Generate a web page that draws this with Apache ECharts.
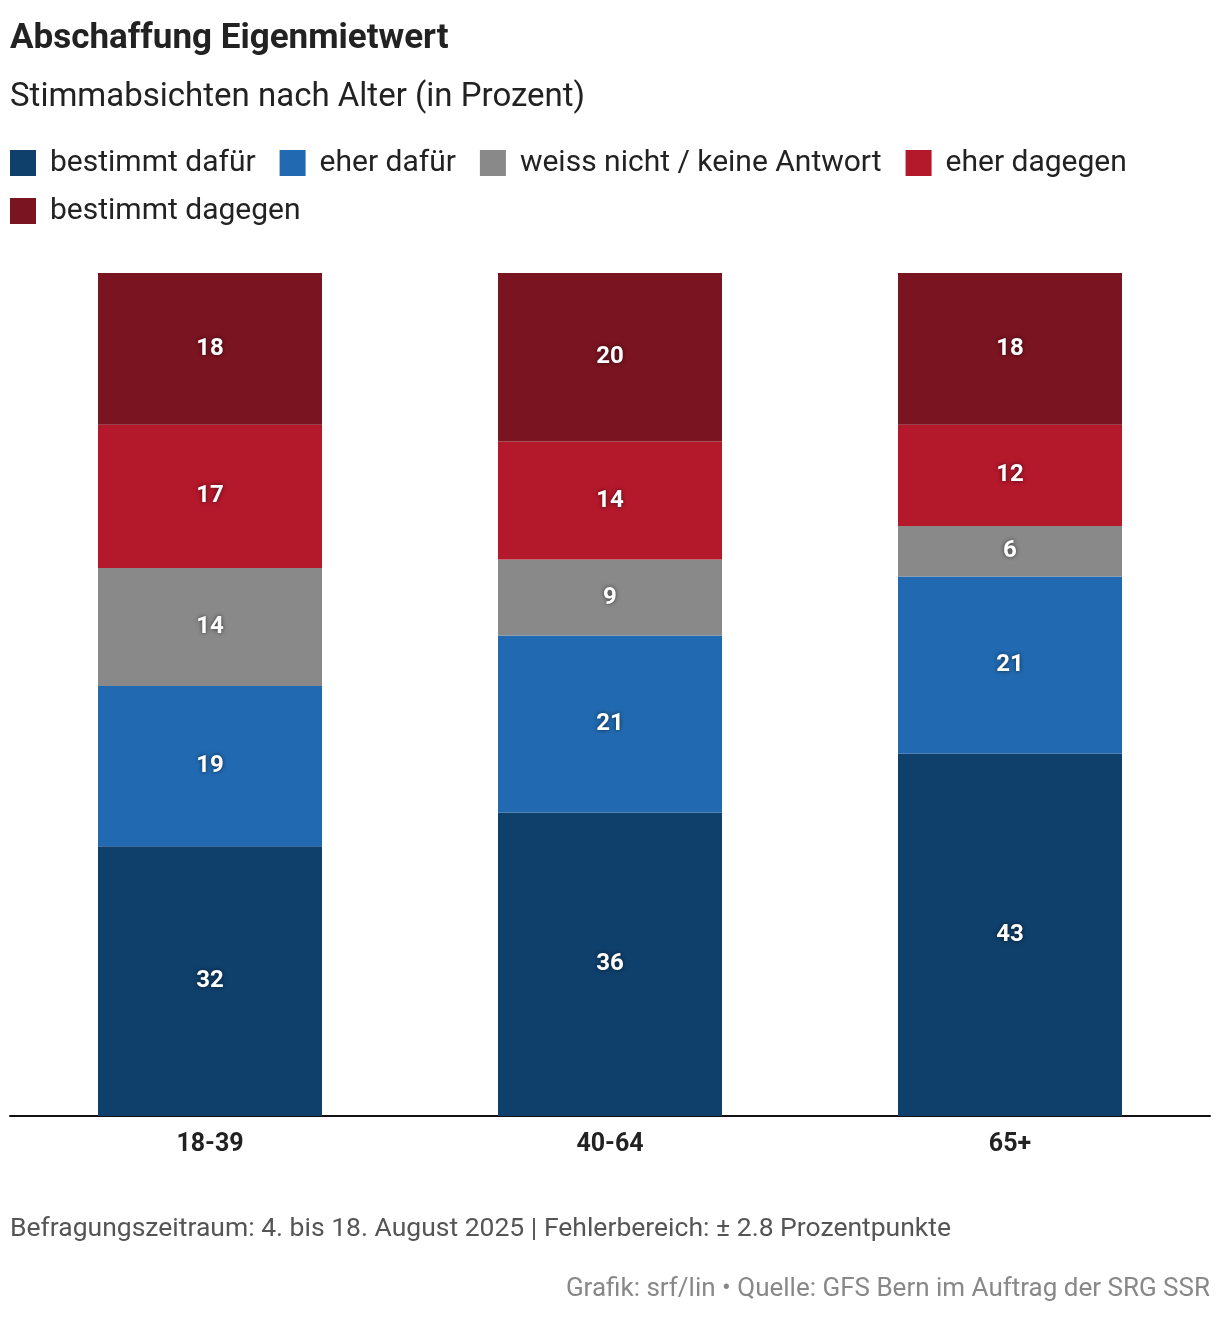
<!DOCTYPE html>
<html><head><meta charset="utf-8">
<script src="https://cdn.jsdelivr.net/npm/echarts@6/dist/echarts.min.js"></script>
<style>html,body{margin:0;padding:0;background:#fff}#c{width:1220px;height:1318px}</style>
</head><body><div id="c"></div>
<script>
const categories = ['18-39', '40-64', '65+'];
const seriesNames = ['bestimmt dafür', 'eher dafür', 'weiss nicht / keine Antwort', 'eher dagegen', 'bestimmt dagegen'];
const bestimmtDafuer = [32, 36, 43];
const eherDafuer = [19, 21, 21];
const weissNicht = [14, 9, 6];
const eherDagegen = [17, 14, 12];
const bestimmtDagegen = [18, 20, 18];
const colors = ['#0f3f6b', '#2169b0', '#898989', '#b3182b', '#7a1420'];
const values = [bestimmtDafuer, eherDafuer, weissNicht, eherDagegen, bestimmtDagegen];

const FONT = 'Roboto, "Noto Sans", sans-serif';
const legendBase = {
  left: 10, padding: 0, orient: 'horizontal',
  itemWidth: 26, itemHeight: 26, itemGap: 24,
  icon: 'rect', selectedMode: false,
  textStyle: {fontFamily: FONT, fontSize: 30, color: '#222', padding: [0, 0, 0, 9]}
};
const chart = echarts.init(document.getElementById('c'), null, {renderer: 'canvas'});
chart.setOption({
  backgroundColor: '#fff',
  animation: false,
  textStyle: {fontFamily: FONT},
  title: [
    {text: 'Abschaffung Eigenmietwert', left: 10, top: 22, padding: 0, textStyle: {fontFamily: FONT, fontSize: 35, fontWeight: 'bold', color: '#222'}},
    {text: 'Stimmabsichten nach Alter (in Prozent)', left: 10, top: 81, padding: 0, textStyle: {fontFamily: FONT, fontSize: 33, fontWeight: 'normal', color: '#222'}},
    {text: 'Befragungszeitraum: 4. bis 18. August 2025 | Fehlerbereich: ± 2.8 Prozentpunkte', left: 10, top: 1216, padding: 0, textStyle: {fontFamily: FONT, fontSize: 26.5, fontWeight: 'normal', color: '#555'}},
    {text: 'Grafik: srf/lin • Quelle: GFS Bern im Auftrag der SRG SSR', right: 10, top: 1276, padding: 0, textStyle: {fontFamily: FONT, fontSize: 26, fontWeight: 'normal', color: '#888'}}
  ],
  legend: [
    Object.assign({}, legendBase, {top: 148, data: seriesNames.slice(0, 4)}),
    Object.assign({}, legendBase, {top: 196, data: seriesNames.slice(4)})
  ],
  grid: {left: 10, right: 10, top: 273, bottom: 202, containLabel: false},
  xAxis: {
    type: 'category', data: categories,
    axisLine: {lineStyle: {color: '#111', width: 2}},
    axisTick: {show: false},
    axisLabel: {fontFamily: FONT, fontSize: 25, fontWeight: 'bold', color: '#222', margin: 16}
  },
  yAxis: {type: 'value', min: 0, max: 100, show: false, splitLine: {show: false}},
  series: seriesNames.map((n, i) => ({
    name: n, type: 'bar', stack: 'all', barWidth: '56%',
    data: values[i],
    itemStyle: {color: colors[i]},
    label: {show: true, position: 'inside', color: '#fff', fontFamily: FONT, fontSize: 24, fontWeight: 'bold',
      textShadowColor: 'rgba(0,0,0,0.6)', textShadowBlur: 4}
  }))
});
</script></body></html>
